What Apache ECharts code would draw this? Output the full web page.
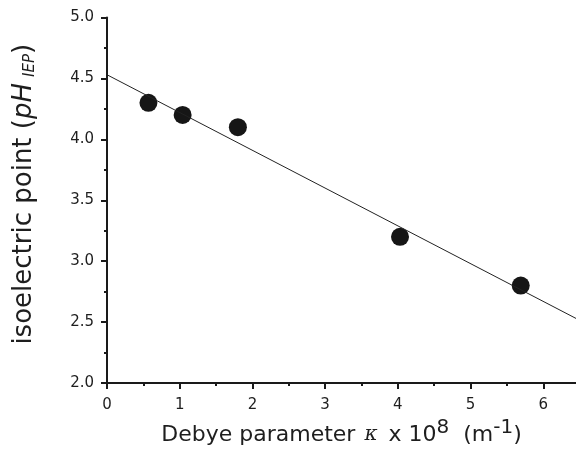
<!DOCTYPE html>
<html><head><meta charset="utf-8">
<script src="https://cdn.jsdelivr.net/npm/echarts@6/dist/echarts.min.js"></script>
<style>html,body{margin:0;padding:0;background:#fff}#c{width:576px;height:453px}</style>
</head><body><div id="c"></div>
<script>
// Data
const kappa = [0.57, 1.04, 1.80, 4.03, 5.69];      // Debye parameter x 1e8 (m^-1)
const pIEP  = [4.30, 4.20, 4.10, 3.20, 2.80];       // isoelectric point
const fitX  = [0, 6.45];                            // fitted line ends
const fitY  = [4.53, 2.53];
const xMajorTicks = [0, 1, 2, 3, 4, 5, 6];
const xMinorTicks = [0.5, 1.5, 2.5, 3.5, 4.5, 5.5];

const FONT = 'DejaVu Sans, Liberation Sans, Arial, sans-serif';
const chart = echarts.init(document.getElementById('c'), null, {renderer: 'canvas'});
const axisCol = '#1a1a1a';
const txt = '#1e1e1e';
chart.setOption({
  animation: false,
  backgroundColor: '#fff',
  grid: {left: 107, right: 0, top: 17.5, bottom: 70, containLabel: false, outerBoundsMode: 'none'},
  xAxis: [{
    type: 'value', min: 0, max: 6.45, interval: 1,
    axisLine: {lineStyle: {color: axisCol, width: 2}},
    axisTick: {show: true, length: 6, lineStyle: {color: axisCol, width: 2}, customValues: xMajorTicks},
    axisLabel: {color: txt, fontFamily: FONT, fontSize: 15, margin: 15, customValues: xMajorTicks},
    splitLine: {show: false},
    name: '{n|Debye parameter }{i|κ}{n| x 10}{sup|8}{n|  (m}{sup|-1}{n|)}',
    nameLocation: 'middle', nameGap: 35,
    nameTextStyle: {
      rich: {
        n: {fontFamily: FONT, fontSize: 22, color: txt},
        i: {fontFamily: 'DejaVu Serif, serif', fontStyle: 'italic', fontSize: 20, color: txt, padding: [0, 4, 0, 2]},
        sup: {fontFamily: FONT, fontSize: 20, color: txt, padding: [0, 0, 14, 0]}
      }
    }
  }, {
    type: 'value', min: 0, max: 6.45, position: 'bottom',
    axisLine: {show: false},
    axisTick: {show: true, length: 3, lineStyle: {color: axisCol, width: 2}, customValues: xMinorTicks},
    axisLabel: {show: false}, splitLine: {show: false}
  }],
  yAxis: {
    type: 'value', min: 2, max: 5, interval: 0.5,
    axisLine: {show: true, lineStyle: {color: axisCol, width: 2}},
    axisTick: {show: true, length: 6, lineStyle: {color: axisCol, width: 2}},
    minorTick: {show: true, splitNumber: 2, length: 3, lineStyle: {color: axisCol, width: 2}},
    axisLabel: {color: txt, fontFamily: FONT, fontSize: 15, margin: 13, formatter: v => v.toFixed(1)},
    splitLine: {show: false},
    name: '{n|isoelectric point (}{i|pH}{sub|IEP}{n|)}',
    nameLocation: 'middle', nameGap: 69, nameRotate: 90,
    nameTextStyle: {
      padding: [0, 0, 0, 12],
      rich: {
        n: {fontFamily: FONT, fontSize: 26, color: txt},
        i: {fontFamily: FONT, fontStyle: 'italic', fontSize: 26, color: txt},
        sub: {fontFamily: FONT, fontStyle: 'italic', fontSize: 15, color: txt, padding: [12, 0, 0, 6]}
      }
    }
  },
  series: [{
    type: 'line', xAxisIndex: 0,
    data: fitX.map((x, i) => [x, fitY[i]]),
    showSymbol: false, lineStyle: {color: '#222', width: 1}, silent: true
  }, {
    type: 'scatter', xAxisIndex: 0,
    data: kappa.map((x, i) => [x, pIEP[i]]),
    symbol: 'circle', symbolSize: 18, itemStyle: {color: '#161616', opacity: 1}
  }]
});
</script></body></html>
